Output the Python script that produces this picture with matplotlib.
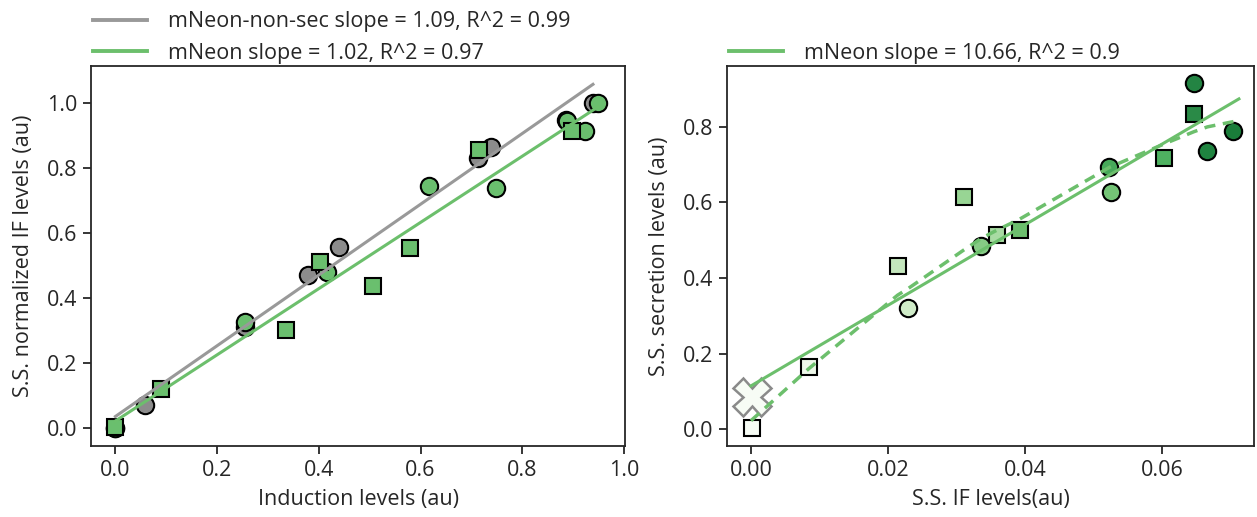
import matplotlib
matplotlib.use("Agg")
import matplotlib.pyplot as plt
from matplotlib.lines import Line2D
import numpy as np

plt.rcParams['font.family'] = ['Open Sans', 'DejaVu Sans']

# ---------------- left panel data ----------------
nonsec_x = [0.0, 0.058, 0.255, 0.379, 0.440, 0.713, 0.738, 0.886, 0.939]
nonsec_y = [0.0, 0.070, 0.311, 0.471, 0.558, 0.830, 0.864, 0.950, 1.0]
neon_circ_x = [0.0, 0.255, 0.416, 0.616, 0.748, 0.888, 0.923, 0.949]
neon_circ_y = [0.0, 0.325, 0.479, 0.745, 0.740, 0.945, 0.914, 1.0]
neon_sq_x = [0.0, 0.089, 0.335, 0.402, 0.506, 0.580, 0.715, 0.898]
neon_sq_y = [0.003, 0.119, 0.303, 0.512, 0.438, 0.555, 0.856, 0.914]
nonsec_fit = (1.09, 0.035)   # slope, intercept
neon_fit = (1.02, 0.021)
nonsec_label = "mNeon-non-sec slope = 1.09, R^2 = 0.99"
neon_label = "mNeon slope = 1.02, R^2 = 0.97"

# ---------------- right panel data ----------------
r_sq_x = [0.0001, 0.0084, 0.0214, 0.0311, 0.0359, 0.0392, 0.0603, 0.0646]
r_sq_y = [0.0026, 0.166, 0.432, 0.615, 0.514, 0.527, 0.719, 0.833]
r_sq_c = ['#f7fcf5', '#eef8ea', '#c4e6bd', '#98d594', '#a8dba3', '#6dbf6e', '#4eb160', '#2a8a47']
r_ci_x = [0.0229, 0.0336, 0.0523, 0.0525, 0.0646, 0.0666, 0.0704]
r_ci_y = [0.320, 0.485, 0.693, 0.627, 0.915, 0.736, 0.789]
r_ci_c = ['#d0ecc9', '#86cb85', '#47a95a', '#74c476', '#238443', '#1f8440', '#1a7d3a']
r_x_marker = (0.0001, 0.086)
r_fit = (10.66, 0.115)
r_fit_range = (0.0, 0.0712)
r_curve_x = [0.0, 0.0084, 0.0214, 0.0229, 0.0311, 0.0336, 0.0359, 0.0392, 0.0523, 0.0603, 0.0646, 0.0666, 0.0704]
r_curve_y = [0.023, 0.160, 0.355, 0.372, 0.475, 0.505, 0.527, 0.556, 0.693, 0.755, 0.787, 0.800, 0.814]
r_label = "mNeon slope = 10.66, R^2 = 0.9"

GREEN = '#6cbf6c'
GREEN_FILL = '#6abf6e'
GRAY_LINE = '#999999'
GRAY_FILL = '#8c8c8c'
TXT = '#262626'
FS = 15.5

W, H = 1257, 517
fig = plt.figure(figsize=(W / 100, H / 100), dpi=100)

def box(x0, x1, ytop, ybot):
    return [x0 / W, 1 - ybot / H, (x1 - x0) / W, (ybot - ytop) / H]

ax1 = fig.add_axes(box(91, 625, 66, 446))
ax2 = fig.add_axes(box(727, 1254, 66, 446))

mk = dict(markeredgecolor='black', markeredgewidth=1.5, linestyle='none')

# left
ax1.plot(nonsec_x, nonsec_y, marker='o', markersize=12.5, markerfacecolor=GRAY_FILL, zorder=2, **mk)
ax1.plot(neon_circ_x, neon_circ_y, marker='o', markersize=12.5, markerfacecolor=GREEN_FILL, zorder=3, **mk)
ax1.plot(neon_sq_x, neon_sq_y, marker='s', markersize=11.5, markerfacecolor=GREEN_FILL, zorder=3, **mk)
xs = np.array([min(nonsec_x), max(nonsec_x)])
ax1.plot(xs, nonsec_fit[0] * xs + nonsec_fit[1], color=GRAY_LINE, lw=2.2, zorder=4)
xs2 = np.array([min(neon_circ_x), max(neon_circ_x)])
ax1.plot(xs2, neon_fit[0] * xs2 + neon_fit[1], color=GREEN, lw=2.2, zorder=4)
ax1.set_xlim(-0.048, 1.002)
ax1.set_ylim(-0.056, 1.115)
ax1.set_xticks([0.0, 0.2, 0.4, 0.6, 0.8, 1.0])
ax1.set_yticks([0.0, 0.2, 0.4, 0.6, 0.8, 1.0])
ax1.set_xlabel("Induction levels (au)", fontsize=FS, color=TXT, labelpad=6)
ax1.set_ylabel("S.S. normalized IF levels (au)", fontsize=FS, color=TXT, labelpad=9)

# right
for x, y, c in zip(r_sq_x, r_sq_y, r_sq_c):
    ax2.plot([x], [y], marker='s', markersize=11.5, markerfacecolor=c, zorder=3, **mk)
for x, y, c in zip(r_ci_x, r_ci_y, r_ci_c):
    ax2.plot([x], [y], marker='o', markersize=12.5, markerfacecolor=c, zorder=3, **mk)
ax2.plot([r_x_marker[0]], [r_x_marker[1]], marker='X', markersize=27, markerfacecolor='#f7fcf5',
         markeredgecolor='#8a8a8a', markeredgewidth=1.8, linestyle='none', zorder=3)
xr = np.array(r_fit_range)
ax2.plot(xr, r_fit[0] * xr + r_fit[1], color=GREEN, lw=2.2, zorder=4)
ax2.plot(r_curve_x, r_curve_y, color=GREEN, lw=2.5, ls=(0, (3.2, 2.2)), zorder=4)
ax2.set_xlim(-0.0035, 0.0734)
ax2.set_ylim(-0.044, 0.961)
ax2.set_xticks([0.0, 0.02, 0.04, 0.06])
ax2.set_xticklabels(['0.00', '0.02', '0.04', '0.06'])
ax2.set_yticks([0.0, 0.2, 0.4, 0.6, 0.8])
ax2.set_xlabel("S.S. IF levels(au)", fontsize=FS, color=TXT, labelpad=6)
ax2.set_ylabel("S.S. secretion levels (au)", fontsize=FS, color=TXT, labelpad=9)

for ax in (ax1, ax2):
    for s in ax.spines.values():
        s.set_linewidth(1.3)
        s.set_color('#262626')
    ax.tick_params(direction='out', length=6, width=1.3, colors='#262626', labelsize=FS, labelcolor=TXT, pad=4)

# legends
h1 = [Line2D([], [], color=GRAY_LINE, lw=2.8), Line2D([], [], color=GREEN, lw=2.8)]
leg1 = ax1.legend(h1, [nonsec_label, neon_label], loc='lower left', bbox_to_anchor=(0.0, 1.0),
                  frameon=False, fontsize=FS, handlelength=2.5, handletextpad=1.0,
                  borderpad=0.0, borderaxespad=0.1, labelspacing=0.5, labelcolor=TXT)
h2 = [Line2D([], [], color=GREEN, lw=2.8)]
leg2 = ax2.legend(h2, [r_label], loc='lower left', bbox_to_anchor=(0.0, 1.0),
                  frameon=False, fontsize=FS, handlelength=2.5, handletextpad=1.0,
                  borderpad=0.0, borderaxespad=0.1, labelcolor=TXT)

fig.savefig("out.png", dpi=100)
